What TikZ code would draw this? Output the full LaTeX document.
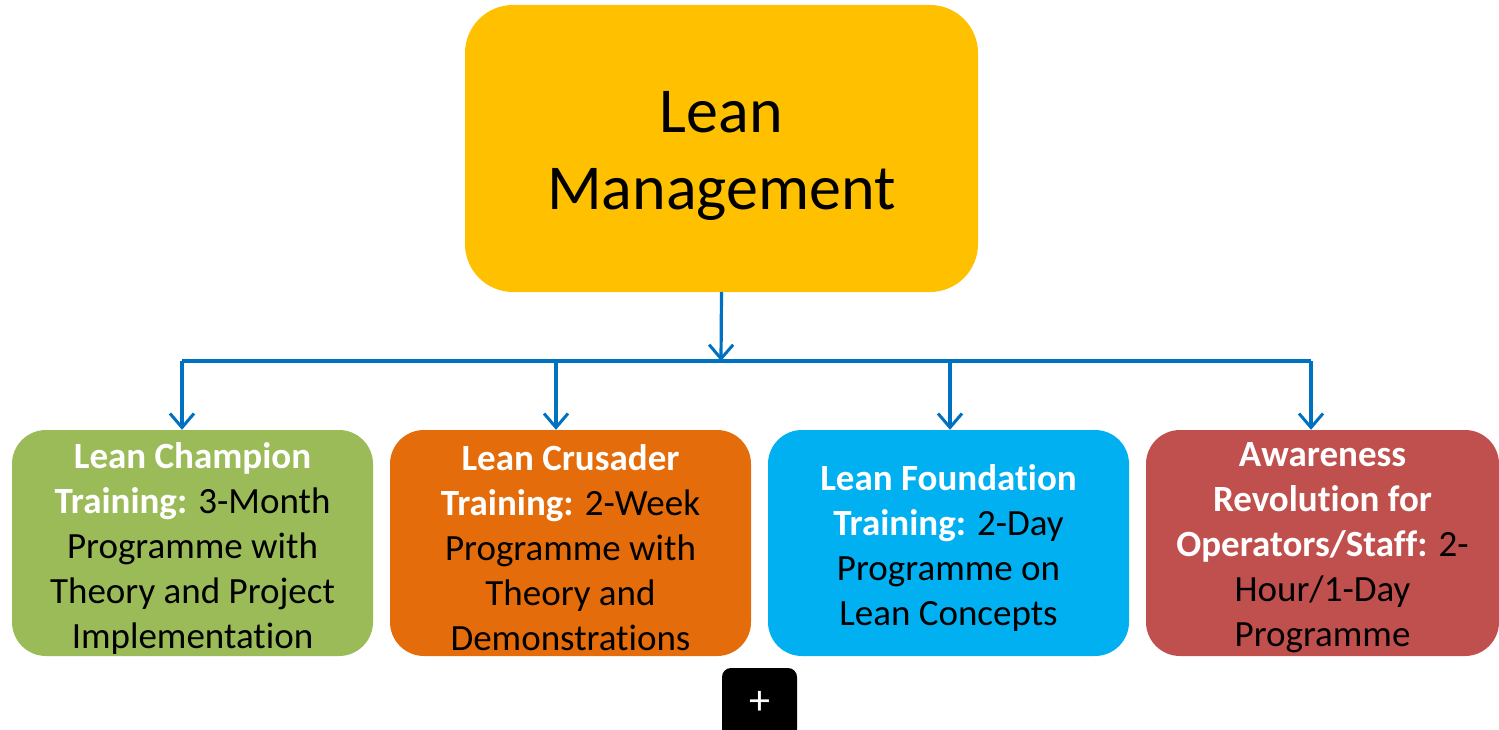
\documentclass[tikz,border=0pt]{standalone}
\usepackage{fontspec}
\setmainfont{Carlito}[Ligatures=NoCommon]
\usetikzlibrary{positioning,arrows.meta}

\definecolor{leanyellow}{HTML}{FFC000}
\definecolor{leangreen}{HTML}{9BBB59}
\definecolor{leanorange}{HTML}{E46C0A}
\definecolor{leanblue}{HTML}{00B0F0}
\definecolor{leanred}{HTML}{C0504D}
\definecolor{linkblue}{HTML}{0070C0}

\newcommand{\hl}[1]{\textbf{\color{white}#1}}

\begin{document}
\begin{tikzpicture} [
                x=1pt, y=-1pt,
                topnode/.style={
                    rectangle,
                    rounded corners=48pt,
                    fill=leanyellow,
                    minimum width=513pt,
                    minimum height=287pt
                },
                toptext/.style={
                    align=center,
                    font=\fontsize{64}{77}\selectfont
                },
                tracknode/.style={
                    rectangle,
                    rounded corners=34pt,
                    minimum width=361pt,
                    minimum height=226pt
                },
                tracktext/.style={
                    inner sep=0pt,
                    align=center,
                    font=\fontsize{37}{45}\selectfont
                },
                barline/.style={
                    draw=linkblue,
                    line width=3.2pt
                },
                link/.style={
                    barline,
                    -{Straight Barb[length=14pt,width=24pt,line width=3pt]}
                }
            ]
                \useasboundingbox (0,0) rectangle (1499,730);
                \node[topnode] (lean) at (721.5,148.5) {};
                \node[toptext] (lean-text) at ([yshift=-7pt]lean.center) {Lean\\Management};
                \node[tracknode, fill=leangreen]  (champion)   at (192.5,543) {};
                \node[tracknode, fill=leanorange] (crusader)   at (570.5,543) {};
                \node[tracknode, fill=leanblue]   (foundation) at (948.5,543) {};
                \node[tracknode, fill=leanred, minimum width=353pt] (awareness) at (1322.5,543) {};
                \node[tracktext] (champion-text)   at ([yshift=-5pt]champion.center)   {\hl{Lean Champion}\\\hl{Training:} 3-Month\\Programme with\\Theory and Project\\Implementation};
                \node[tracktext] (crusader-text)   at ([yshift=-5pt]crusader.center)   {\hl{Lean Crusader}\\\hl{Training:} 2-Week\\Programme with\\Theory and\\Demonstrations};
                \node[tracktext] (foundation-text) at ([yshift=-5pt]foundation.center) {\hl{Lean Foundation}\\\hl{Training:} 2-Day\\Programme on\\Lean Concepts};
                \node[tracktext] (awareness-text)  at ([yshift=-5pt]awareness.center)  {\hl{Awareness}\\\hl{Revolution for}\\\hl{Operators/Staff:} 2-\\Hour/1-Day\\Programme};
                \node[rectangle, rounded corners=9pt, fill=black, minimum width=75pt, minimum height=70pt, text=white, font=\fontsize{42}{42}\selectfont] (plus) at (759.5,703) {+};
                % connectors
                \coordinate (hub)   at (721,361);
                \coordinate (bar-a) at (182,361);
                \coordinate (bar-b) at (556,361);
                \coordinate (bar-c) at (950,361);
                \coordinate (bar-d) at (1311,361);
                \draw[link] (lean.south) -- (hub);
                \draw[barline] (bar-a) -- (bar-d);
                \draw[link] (bar-a) -- (bar-a |- champion.north);
                \draw[link] (bar-b) -- (bar-b |- crusader.north);
                \draw[link] (bar-c) -- (bar-c |- foundation.north);
                \draw[link] (bar-d) -- (bar-d |- awareness.north);
            \end{tikzpicture}
\end{document}
